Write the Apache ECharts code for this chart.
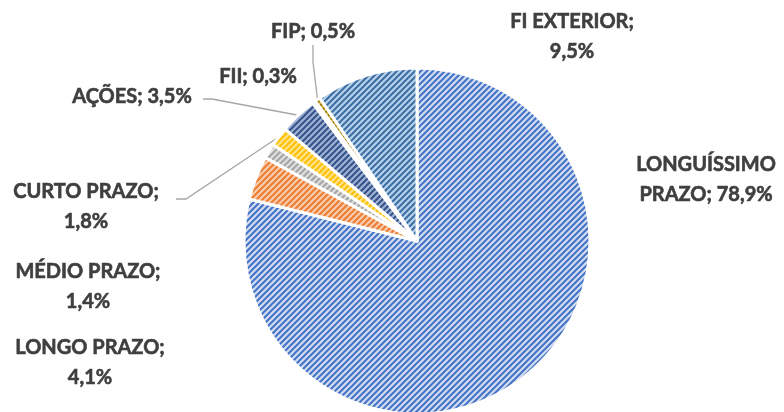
<!DOCTYPE html>
<html>
<head>
<meta charset="utf-8">
<script src="https://cdn.jsdelivr.net/npm/echarts@6/dist/echarts.min.js"></script>
<style>
  html, body { margin: 0; padding: 0; background: #fff; }
  #chart { width: 784px; height: 412px; }
</style>
</head>
<body>
<div id="chart"></div>
<script>
// dados
var categories = ['LONGUÍSSIMO PRAZO', 'LONGO PRAZO', 'MÉDIO PRAZO', 'CURTO PRAZO', 'AÇÕES', 'FII', 'FIP', 'FI EXTERIOR'];
var shares = [78.9, 4.1, 1.4, 1.8, 3.5, 0.3, 0.5, 9.5];

// estilos (fundo / listra)
var fillBg = ['#d2ddf2', '#f8cbad', '#dedede', '#ffe28a', '#9fb2d4', '#8aa3cf', '#d8b74a', '#b8d1ea'];
var fillFg = ['#4472c4', '#ed7d31', '#a5a5a5', '#ffc000', '#34528a', '#264478', '#9c7a0b', '#3b6fa4'];

// posicao dos rotulos: centro x/y, quebra de linha, linha de chamada
var labelPos = [
  { x: 706, y: 180, wrap: 'name' },
  { x: 90,  y: 363, wrap: 'value' },
  { x: 88,  y: 287, wrap: 'value' },
  { x: 86,  y: 207, wrap: 'value', line: [[186, 199], [176, 199]] },
  { x: 132, y: 97,  wrap: 'none',  line: [[212, 99], [203, 99]] },
  { x: 258, y: 77,  wrap: 'none' },
  { x: 313, y: 32,  wrap: 'none',  line: [[313, 62], [313, 45]] },
  { x: 572, y: 37,  wrap: 'value' }
];

function makeHatch(bg, fg) {
  var c = document.createElement('canvas');
  c.width = 6; c.height = 6;
  var ctx = c.getContext('2d');
  ctx.fillStyle = bg;
  ctx.fillRect(0, 0, 6, 6);
  ctx.strokeStyle = fg;
  ctx.lineWidth = 2;
  ctx.beginPath();
  ctx.moveTo(-1, 7); ctx.lineTo(7, -1);
  ctx.moveTo(-1, 1); ctx.lineTo(1, -1);
  ctx.moveTo(5, 7); ctx.lineTo(7, 5);
  ctx.stroke();
  return { image: c, repeat: 'repeat' };
}

var myChart = echarts.init(document.getElementById('chart'), null, { renderer: 'canvas' });

var seriesData = categories.map(function (name, i) {
  return {
    name: name,
    value: shares[i],
    itemStyle: { color: makeHatch(fillBg[i], fillFg[i]) },
    labelLine: { show: !!labelPos[i].line }
  };
});

var option = {
  animation: false,
  series: [
    {
      type: 'pie',
      center: [417, 241],
      radius: 173,
      startAngle: 90,
      clockwise: true,
      avoidLabelOverlap: false,
      itemStyle: { borderColor: '#ffffff', borderWidth: 3 },
      emphasis: { disabled: true },
      label: {
        show: true,
        position: 'outside',
        fontFamily: 'Lato',
        fontWeight: 'bold',
        fontSize: 20,
        lineHeight: 30,
        color: '#3f3f3f',
        textBorderColor: '#3f3f3f',
        textBorderWidth: 0.6,
        align: 'center',
        formatter: function (p) {
          var v = p.value.toFixed(1).replace('.', ',') + '%';
          var w = labelPos[p.dataIndex].wrap;
          if (w === 'name') return p.name.replace(' ', '\n') + '; ' + v;
          if (w === 'value') return p.name + ';\n' + v;
          return p.name + '; ' + v;
        }
      },
      labelLine: {
        lineStyle: { color: '#a6a6a6', width: 1.3 }
      },
      labelLayout: function (params) {
        var lp = labelPos[params.dataIndex];
        var res = { x: lp.x, y: lp.y, align: 'center', verticalAlign: 'middle' };
        if (lp.line && params.labelLinePoints) {
          res.labelLinePoints = [params.labelLinePoints[0]].concat(lp.line);
        }
        return res;
      },
      data: seriesData
    }
  ]
};

myChart.setOption(option);
</script>
</body>
</html>
